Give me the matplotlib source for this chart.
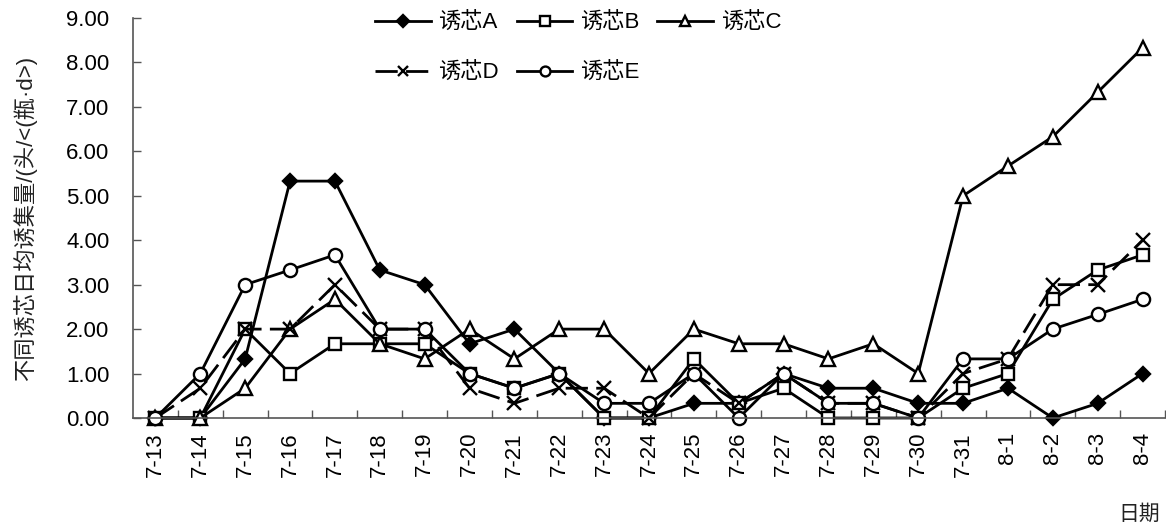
import matplotlib
matplotlib.use("Agg")
import matplotlib.pyplot as plt
from matplotlib.ticker import FixedLocator, FormatStrFormatter

plt.rcParams['font.family'] = ['Liberation Sans', 'Noto Sans CJK SC']

dates = ['7-13', '7-14', '7-15', '7-16', '7-17', '7-18', '7-19', '7-20',
         '7-21', '7-22', '7-23', '7-24', '7-25', '7-26', '7-27', '7-28',
         '7-29', '7-30', '7-31', '8-1', '8-2', '8-3', '8-4']

lure_a = [0, 0, 1.33, 5.33, 5.33, 3.33, 3.00, 1.67, 2.00, 1.00, 0, 0,
          0.33, 0.33, 1.00, 0.67, 0.67, 0.33, 0.33, 0.67, 0, 0.33, 1.00]
lure_b = [0, 0, 2.00, 1.00, 1.67, 1.67, 1.67, 1.00, 0.67, 1.00, 0, 0,
          1.33, 0.33, 0.67, 0, 0, 0, 0.67, 1.00, 2.67, 3.33, 3.67]
lure_c = [0, 0, 0.67, 2.00, 2.67, 1.67, 1.33, 2.00, 1.33, 2.00, 2.00, 1.00,
          2.00, 1.67, 1.67, 1.33, 1.67, 1.00, 5.00, 5.67, 6.33, 7.33, 8.33]
lure_d = [0, 0.67, 2.00, 2.00, 3.00, 2.00, 2.00, 0.67, 0.33, 0.67, 0.67, 0,
          1.00, 0.33, 1.00, 0.33, 0.33, 0, 1.00, 1.33, 3.00, 3.00, 4.00]
lure_e = [0, 1.00, 3.00, 3.33, 3.67, 2.00, 2.00, 1.00, 0.67, 1.00, 0.33, 0.33,
          1.00, 0, 1.00, 0.33, 0.33, 0, 1.33, 1.33, 2.00, 2.33, 2.67]

series = [
    ('诱芯A', lure_a, dict(marker='D', ms=7.5, mfc='black', ls='-')),
    ('诱芯B', lure_b, dict(marker='s', ms=9, mfc='white', ls='-')),
    ('诱芯C', lure_c, dict(marker='^', ms=10, mfc='white', ls='-')),
    ('诱芯D', lure_d, dict(marker='x', ms=9.5, mfc='white', ls=(0, (8, 3)))),
    ('诱芯E', lure_e, dict(marker='o', ms=9.5, mfc='white', ls='-')),
]

fig = plt.figure(figsize=(11.66, 5.32), dpi=100)
ax = fig.add_axes([133 / 1166, 1 - 418 / 532, 1032 / 1166, 400 / 532])

x = list(range(len(dates)))
lines = []
for name, vals, style in series:
    ln, = ax.plot(x, vals, color='black', lw=2.0, mec='black', mew=1.7,
                  label=name, clip_on=False, **style)
    lines.append(ln)

ax.set_xlim(-0.5, len(dates) - 0.5)
ax.set_ylim(0, 9)
ax.set_yticks(range(10))
ax.yaxis.set_major_formatter(FormatStrFormatter('%.2f'))
ax.set_xticks(x)
ax.set_xticklabels(dates, rotation=90)
ax.xaxis.set_minor_locator(FixedLocator([i + 0.5 for i in range(len(dates))]))

for s in ['top', 'right']:
    ax.spines[s].set_visible(False)
for s in ['left', 'bottom']:
    ax.spines[s].set_color('#555555')
    ax.spines[s].set_linewidth(1.2)

ax.tick_params(axis='y', direction='in', length=6, width=1, color='#555555',
               labelsize=16, pad=17)
ax.tick_params(axis='x', which='major', length=0, labelsize=16, pad=10)
ax.tick_params(axis='x', which='minor', direction='in', length=6, width=1,
               color='#555555')

fig.text(25 / 1166, 1 - 218 / 532, '不同诱芯日均诱集量/(头/<(瓶·d>)',
         rotation=90, ha='center', va='center', fontsize=16, color='#222222')
fig.text(1139 / 1166, 1 - 514 / 532, '日期', ha='center', va='center',
         fontsize=15, color='#222222')

# legend reads row by row: A B C / D E
order = [0, 3, 1, 4, 2]
ax.legend([lines[i] for i in order], [series[i][0] for i in order],
          loc='upper left', bbox_to_anchor=(375 / 1166, 1 - 13 / 532),
          bbox_transform=fig.transFigure, ncol=3, frameon=False,
          fontsize=16, handlelength=2.5, handletextpad=0.35,
          columnspacing=0.8, labelspacing=1.3, borderpad=0,
          borderaxespad=0, markerscale=0.75)

fig.savefig('out.png', dpi=100)
